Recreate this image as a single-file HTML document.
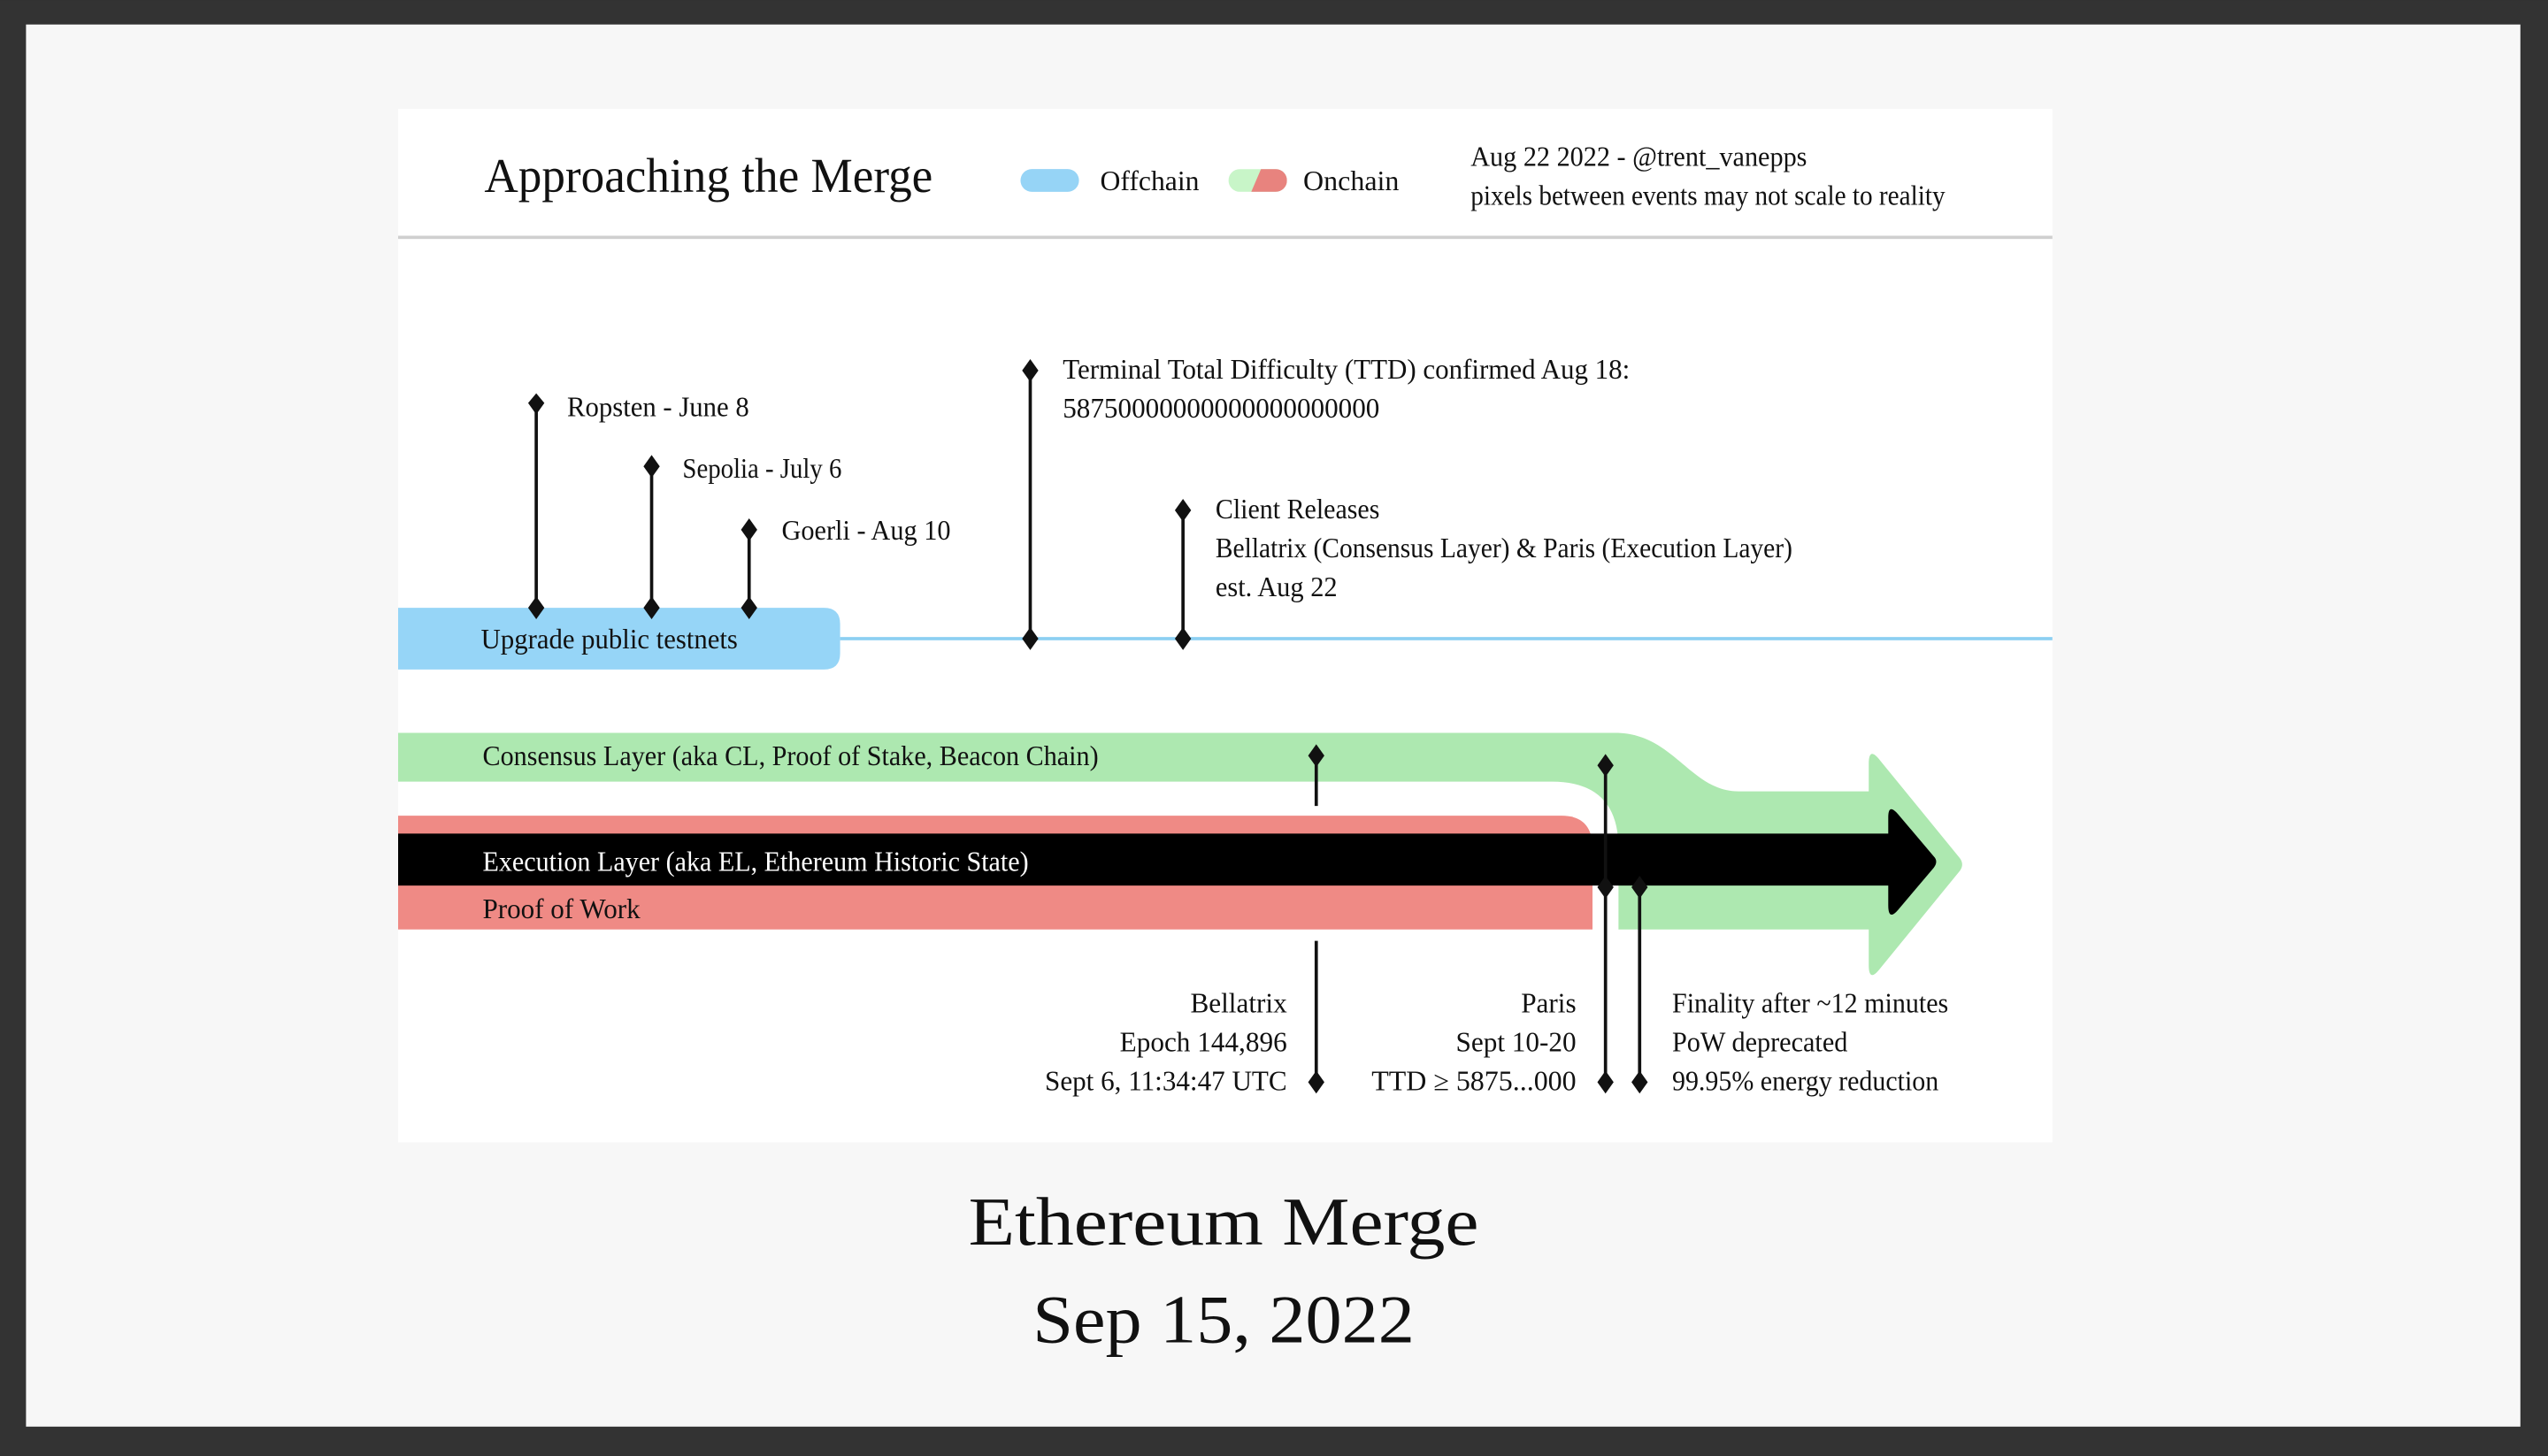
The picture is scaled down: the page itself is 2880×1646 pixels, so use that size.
<!DOCTYPE html>
<html><head><meta charset="utf-8"><style>
html,body{margin:0;padding:0;background:#333;}
svg{display:block}
text{font-family:"Liberation Serif",serif;fill:#111;}
</style></head><body>
<svg width="2880" height="1646" viewBox="0 0 1568 896" xmlns="http://www.w3.org/2000/svg">
<rect x="0" y="0" width="1568" height="896" fill="#333"/>
<rect x="16" y="15" width="1535" height="863" fill="#f7f7f7"/>
<rect x="245" y="67" width="1018" height="636" fill="#fff"/>
<!-- header -->
<text x="298" y="118" font-size="30" textLength="276" lengthAdjust="spacingAndGlyphs">Approaching the Merge</text>
<rect x="628" y="104" width="36" height="14" rx="7" fill="#96d4f6"/>
<text x="677" y="117" font-size="17" textLength="61" lengthAdjust="spacingAndGlyphs">Offchain</text>
<clipPath id="pill"><rect x="756" y="104" width="36" height="14" rx="7"/></clipPath>
<g clip-path="url(#pill)"><rect x="756" y="104" width="36" height="14" fill="#c8f5c8"/><polygon points="776,104 792,104 792,118 770,118" fill="#e8837e"/></g>
<text x="802" y="117" font-size="17" textLength="59" lengthAdjust="spacingAndGlyphs">Onchain</text>
<text x="905" y="102" font-size="17" textLength="207" lengthAdjust="spacingAndGlyphs">Aug 22 2022 - @trent_vanepps</text>
<text x="905" y="126" font-size="17" textLength="292" lengthAdjust="spacingAndGlyphs">pixels between events may not scale to reality</text>
<rect x="245" y="145" width="1018" height="2" fill="#cfcfcf"/>
<!-- offchain -->
<rect x="517" y="392" width="746" height="2" fill="#8ccff2"/>
<path d="M245,374 L507,374 Q517,374 517,384 L517,402 Q517,412 507,412 L245,412 Z" fill="#96d5f7"/>
<text x="296" y="399" font-size="17" textLength="158" lengthAdjust="spacingAndGlyphs">Upgrade public testnets</text>
<g stroke="#111" stroke-width="2">
<line x1="330" y1="248" x2="330" y2="374"/>
<line x1="401" y1="287" x2="401" y2="374"/>
<line x1="461" y1="326" x2="461" y2="374"/>
<line x1="634" y1="228" x2="634" y2="393"/>
<line x1="728" y1="314" x2="728" y2="393"/>
</g>
<g fill="#111">
<polygon points="330,242 335,248 330,255 325,248"/><polygon points="330,367 335,374 330,381 325,374"/>
<polygon points="401,280 406,287 401,294 396,287"/><polygon points="401,367 406,374 401,381 396,374"/>
<polygon points="461,319 466,326 461,333 456,326"/><polygon points="461,367 466,374 461,381 456,374"/>
<polygon points="634,221 639,228 634,235 629,228"/><polygon points="634,386 639,393 634,400 629,393"/>
<polygon points="728,307 733,314 728,321 723,314"/><polygon points="728,386 733,393 728,400 723,393"/>
</g>
<text x="349" y="256" font-size="17" textLength="112" lengthAdjust="spacingAndGlyphs">Ropsten - June 8</text>
<text x="420" y="294" font-size="17" textLength="98" lengthAdjust="spacingAndGlyphs">Sepolia - July 6</text>
<text x="481" y="332" font-size="17" textLength="104" lengthAdjust="spacingAndGlyphs">Goerli - Aug 10</text>
<text x="654" y="233" font-size="17" textLength="349" lengthAdjust="spacingAndGlyphs">Terminal Total Difficulty (TTD) confirmed Aug 18:</text>
<text x="654" y="257" font-size="17" textLength="195" lengthAdjust="spacingAndGlyphs">58750000000000000000000</text>
<text x="748" y="319" font-size="17" textLength="101" lengthAdjust="spacingAndGlyphs">Client Releases</text>
<text x="748" y="343" font-size="17" textLength="355" lengthAdjust="spacingAndGlyphs">Bellatrix (Consensus Layer) &amp; Paris (Execution Layer)</text>
<text x="748" y="367" font-size="17" textLength="75" lengthAdjust="spacingAndGlyphs">est. Aug 22</text>
<!-- onchain -->
<path d="M245,451 L994,451 C1030,451 1040,487 1070,487 L1150,487 L1150,470 Q1150,459 1157,468 L1206,528 Q1209,532 1206,536 L1157,596 Q1150,605 1150,594 L1150,572 L996,572 L996,522 Q996,481 955,481 L245,481 Z" fill="#ade8b0"/>
<path d="M245,502 L961,502 Q980,502 980,522 L980,572 L245,572 Z" fill="#ef8a85"/>
<path d="M245,513 L1162,513 L1162,503 Q1162,494 1168,501 L1190,527 Q1193,530 1190,534 L1168,560 Q1162,567 1162,557 L1162,545 L245,545 Z" fill="#000"/>
<text x="297" y="471" font-size="17" textLength="379" lengthAdjust="spacingAndGlyphs">Consensus Layer (aka CL, Proof of Stake, Beacon Chain)</text>
<text x="297" y="536" font-size="17" style="fill:#fff" textLength="336" lengthAdjust="spacingAndGlyphs">Execution Layer (aka EL, Ethereum Historic State)</text>
<text x="297" y="565" font-size="17" textLength="97" lengthAdjust="spacingAndGlyphs">Proof of Work</text>
<g stroke="#111" stroke-width="2">
<line x1="810" y1="465" x2="810" y2="496"/>
<line x1="810" y1="579" x2="810" y2="666"/>
<line x1="988" y1="471" x2="988" y2="666"/>
<line x1="1009" y1="546" x2="1009" y2="666"/>
</g>
<g fill="#111">
<polygon points="810,458 815,465 810,472 805,465"/><polygon points="810,659 815,666 810,673 805,666"/>
<polygon points="988,464 993,471 988,478 983,471"/><polygon points="988,539 993,546 988,553 983,546"/><polygon points="988,659 993,666 988,673 983,666"/>
<polygon points="1009,539 1014,546 1009,553 1004,546"/><polygon points="1009,659 1014,666 1009,673 1004,666"/>
</g>
<g font-size="17" text-anchor="end">
<text x="792" y="623">Bellatrix</text>
<text x="792" y="647">Epoch 144,896</text>
<text x="792" y="671" textLength="149" lengthAdjust="spacingAndGlyphs">Sept 6, 11:34:47 UTC</text>
<text x="970" y="623">Paris</text>
<text x="970" y="647">Sept 10-20</text>
<text x="970" y="671" textLength="126" lengthAdjust="spacingAndGlyphs">TTD ≥ 5875...000</text>
</g>
<text x="1029" y="623" font-size="17" textLength="170" lengthAdjust="spacingAndGlyphs">Finality after ~12 minutes</text>
<text x="1029" y="647" font-size="17" textLength="108" lengthAdjust="spacingAndGlyphs">PoW deprecated</text>
<text x="1029" y="671" font-size="17" textLength="164" lengthAdjust="spacingAndGlyphs">99.95% energy reduction</text>
<!-- caption -->
<text x="753" y="766" font-size="42" text-anchor="middle" textLength="314" lengthAdjust="spacingAndGlyphs">Ethereum Merge</text>
<text x="753" y="826" font-size="42" text-anchor="middle" textLength="235" lengthAdjust="spacingAndGlyphs">Sep 15, 2022</text>
</svg>
</body></html>
